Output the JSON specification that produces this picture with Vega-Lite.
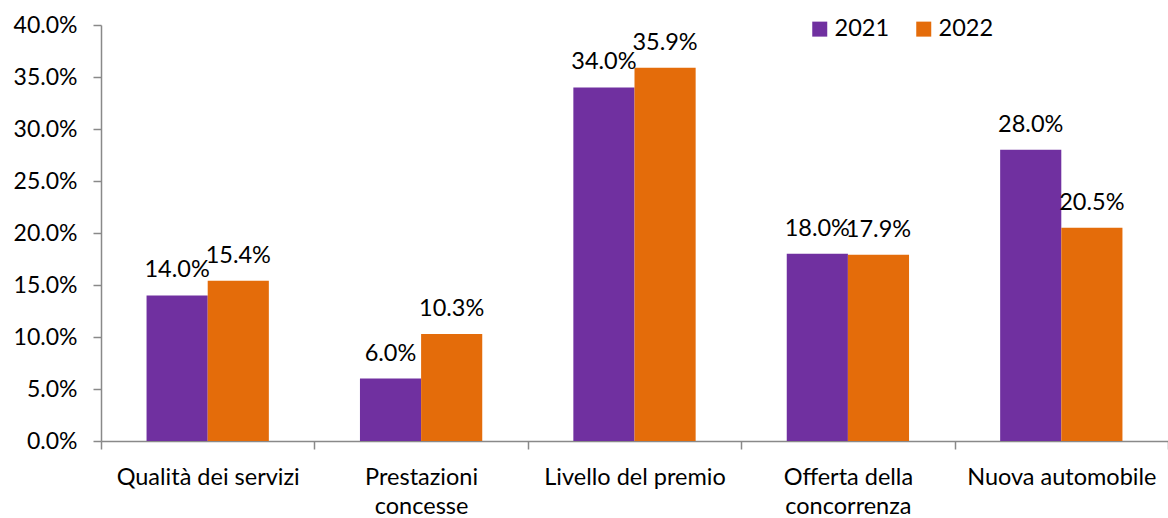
{
  "$schema": "https://vega.github.io/schema/vega-lite/v6.json",
  "autosize": {"type": "none"},
  "padding": {"left": 101, "top": 25, "right": 0, "bottom": 77},
  "width": 1067,
  "height": 416,
  "background": "white",
  "config": {
    "font": "Lato",
    "view": {"stroke": null}
  },
  "data": {
    "values": [
      {"cat": "Qualità dei servizi", "year": "2021", "v": 0.140},
      {"cat": "Qualità dei servizi", "year": "2022", "v": 0.154},
      {"cat": "Prestazioni|concesse", "year": "2021", "v": 0.060},
      {"cat": "Prestazioni|concesse", "year": "2022", "v": 0.103},
      {"cat": "Livello del premio", "year": "2021", "v": 0.340},
      {"cat": "Livello del premio", "year": "2022", "v": 0.359},
      {"cat": "Offerta della|concorrenza", "year": "2021", "v": 0.180},
      {"cat": "Offerta della|concorrenza", "year": "2022", "v": 0.179},
      {"cat": "Nuova automobile", "year": "2021", "v": 0.280},
      {"cat": "Nuova automobile", "year": "2022", "v": 0.205}
    ]
  },
  "encoding": {
    "x": {
      "field": "cat", "type": "nominal", "sort": null,
      "scale": {"paddingInner": 0, "paddingOuter": 0},
      "axis": {
        "title": null, "labelAngle": 0, "tickBand": "extent",
        "labelExpr": "split(datum.label, '|')",
        "labelFontSize": 23.5, "labelColor": "#000000", "labelLineHeight": 29,
        "labelPadding": 16, "tickSize": 8, "tickColor": "#898989",
        "domainColor": "#898989", "domainWidth": 1.5, "tickWidth": 1.5,
        "labelBaseline": "top", "labelLimit": 0, "labelOverlap": false
      }
    },
    "xOffset": {
      "field": "year", "type": "nominal",
      "scale": {"paddingInner": 0, "paddingOuter": 0.745}
    },
    "y": {
      "field": "v", "type": "quantitative",
      "scale": {"domain": [0, 0.4]},
      "axis": {
        "title": null, "format": ".1%", "values": [0, 0.05, 0.1, 0.15, 0.2, 0.25, 0.3, 0.35, 0.4],
        "grid": false, "labelFontSize": 23, "labelColor": "#000000",
        "labelPadding": 16, "tickSize": 8, "tickColor": "#898989",
        "domainColor": "#898989", "domainWidth": 1.5, "tickWidth": 1.5
      }
    }
  },
  "layer": [
    {
      "mark": {"type": "bar"},
      "encoding": {
        "color": {
          "field": "year", "type": "nominal",
          "scale": {"domain": ["2021", "2022"], "range": ["#7030A0", "#E46C0A"]},
          "legend": {
            "title": null, "orient": "none", "direction": "horizontal",
            "legendX": 707, "legendY": -8,
            "symbolType": "square", "symbolSize": 225, "symbolStrokeWidth": 0,
            "labelFontSize": 23.5, "labelColor": "#000000", "labelOffset": 3,
            "columnPadding": 22
          }
        }
      }
    },
    {
      "mark": {"type": "text", "baseline": "bottom", "dy": -13, "fontSize": 23.5, "color": "#000000"},
      "encoding": {
        "text": {"field": "v", "type": "quantitative", "format": ".1%"}
      }
    }
  ]
}
